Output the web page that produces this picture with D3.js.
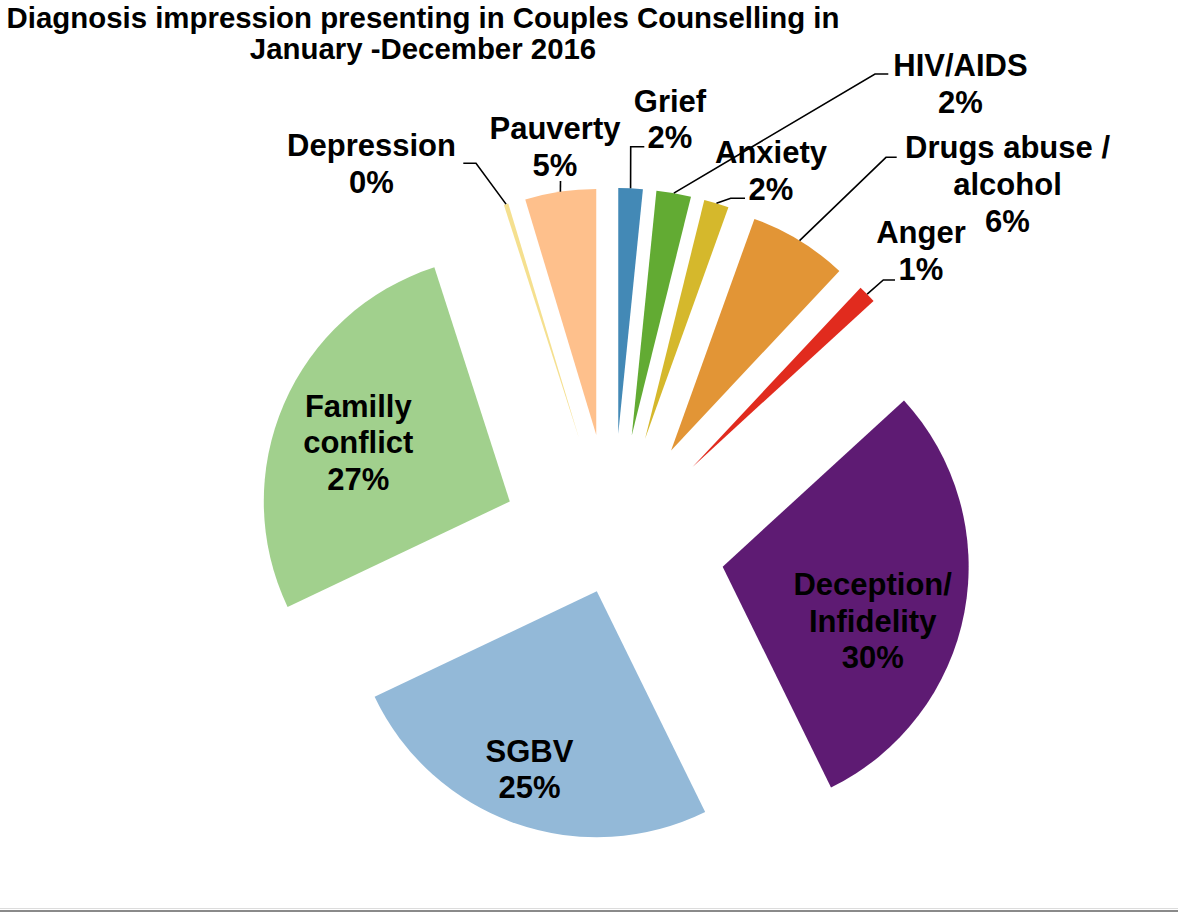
<!DOCTYPE html>
<html>
<head>
<meta charset="utf-8">
<script src="https://cdn.jsdelivr.net/npm/d3@7"></script>
<style>
  html, body { margin: 0; padding: 0; background: #fff; }
  svg { display: block; }
  text { font-family: "Liberation Sans", Arial, Helvetica, sans-serif; font-weight: bold; fill: #000; }
</style>
</head>
<body>
<svg id="chart" width="1178" height="913"></svg>
<script>
// ---- data ----
const categories = ["Grief", "HIV/AIDS", "Anxiety", "Drugs abuse / alcohol", "Anger",
                    "Deception/ Infidelity", "SGBV", "Familly conflict", "Depression", "Pauverty"];
const values = [1.6, 2.27, 1.63, 6.49, 1.2, 29.55, 25.2, 27.1, 0.3, 4.66];
const colors = ["#4389b6", "#62ab33", "#d5b82c", "#e29536", "#e12b1e",
                "#5e1b73", "#93b9d8", "#a1d08d", "#f5e08f", "#fec08c"];
const titleLines = ["Diagnosis impression presenting in Couples Counselling in", "January -December 2016"];

// ---- layout ----
const W = 1178, H = 913;
const cx = 612.6, cy = 545.9, R = 246;
const explodeDefault = 112;
const explodeBy = { "SGBV": 48 };
const fontSize = 31, lineGap = 36.7;

// label layout: lines, centre x, first baseline, leader (elbow, end)
const labelLayout = {
  "Grief":                 { lines: ["Grief"], x: 670, y: 111.7, elbow: [630.7, 146.7], end: [644.3, 146.7] },
  "HIV/AIDS":              { lines: ["HIV/AIDS"], x: 960.5, y: 76, elbow: [875, 74], end: [888.3, 74] },
  "Anxiety":               { lines: ["Anxiety"], x: 771, y: 163.3, elbow: [730.7, 198.3], end: [745, 198.3] },
  "Drugs abuse / alcohol": { lines: ["Drugs abuse /", "alcohol"], x: 1007.5, y: 158.3, elbow: [886, 157.3], end: [896.7, 157.3] },
  "Anger":                 { lines: ["Anger"], x: 921, y: 243.3, elbow: [883.3, 280], end: [895, 280] },
  "Deception/ Infidelity": { lines: ["Deception/", "Infidelity"], x: 872.7, y: 595 },
  "SGBV":                  { lines: ["SGBV"], x: 529.5, y: 761.7 },
  "Familly conflict":      { lines: ["Familly", "conflict"], x: 358.3, y: 416.7 },
  "Depression":            { lines: ["Depression"], x: 371.5, y: 156, elbow: [476, 163.3], end: [463.3, 163.3] },
  "Pauverty":              { lines: ["Pauverty"], x: 555, y: 139.3, elbow: [560.5, 181], end: [560.5, 181] }
};

const svg = d3.select("#chart");

// title
svg.append("g").selectAll("text").data(titleLines).join("text")
  .attr("x", 423).attr("y", (d, i) => 28 + i * 31)
  .attr("text-anchor", "middle")
  .style("font-size", "29.4px")
  .text(d => d);

const data = categories.map((c, i) => ({ name: c, value: values[i], color: colors[i] }));

const pie = d3.pie().sort(null).value(d => d.value).startAngle(0).endAngle(2 * Math.PI);
const arcs = pie(data);
const arc = d3.arc().innerRadius(0).outerRadius(R);

function offset(a) {
  const mid = (a.startAngle + a.endAngle) / 2;
  const e = explodeBy[a.data.name] !== undefined ? explodeBy[a.data.name] : explodeDefault;
  return [e * Math.sin(mid), -e * Math.cos(mid), mid, e];
}

const g = svg.append("g").attr("transform", `translate(${cx},${cy})`);

g.selectAll("path.slice").data(arcs).join("path")
  .attr("class", "slice")
  .attr("d", arc)
  .attr("fill", d => d.data.color)
  .attr("transform", d => { const o = offset(d); return `translate(${o[0]},${o[1]})`; });

// leader lines
const leaders = arcs.filter(a => labelLayout[a.data.name].elbow);
svg.append("g").selectAll("polyline").data(leaders).join("polyline")
  .attr("fill", "none").attr("stroke", "#000").attr("stroke-width", 1.6)
  .attr("points", a => {
    const o = offset(a);
    const r = o[3] + R;
    const sx = cx + r * Math.sin(o[2]), sy = cy - r * Math.cos(o[2]);
    const L = labelLayout[a.data.name];
    return [[sx, sy], L.elbow, L.end].map(p => p.join(",")).join(" ");
  });

// labels
const total = d3.sum(values);
const lg = svg.append("g");
arcs.forEach(a => {
  const L = labelLayout[a.data.name];
  const lines = L.lines.concat([Math.round(a.data.value / total * 100) + "%"]);
  lg.append("g").selectAll("text").data(lines).join("text")
    .attr("x", L.x).attr("y", (d, i) => L.y + i * lineGap)
    .attr("text-anchor", "middle")
    .style("font-size", fontSize + "px")
    .text(d => d);
});

// bottom border
svg.append("line").attr("x1", 0).attr("x2", W).attr("y1", 908.5).attr("y2", 908.5)
  .attr("stroke", "#dcdcdc").attr("stroke-width", 1);
svg.append("line").attr("x1", 0).attr("x2", W).attr("y1", 911).attr("y2", 911)
  .attr("stroke", "#8a8a8a").attr("stroke-width", 2);
</script>
</body>
</html>
